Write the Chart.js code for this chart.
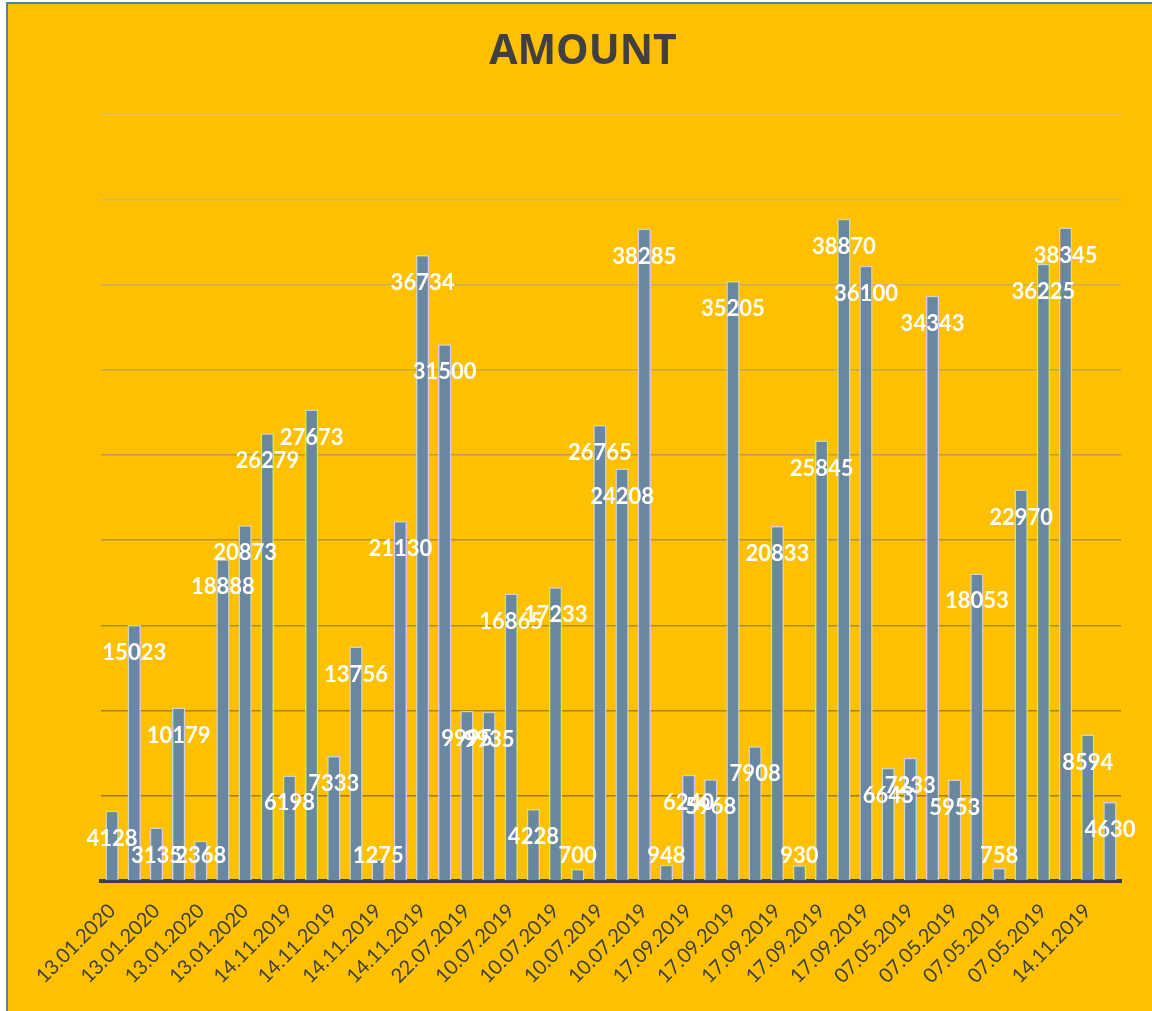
<!DOCTYPE html>
<html>
<head>
<meta charset="utf-8">
<script src="https://cdn.jsdelivr.net/npm/chart.js@4.4.1/dist/chart.umd.min.js"></script>
<style>
  html, body { margin: 0; padding: 0; background: #ffffff; width: 1152px; height: 1011px; overflow: hidden; }
  #frame { position: absolute; left: 6px; top: 2px; width: 1146px; height: 1009px; box-sizing: border-box;
           border-left: 2px solid #4F81BD; border-top: 2px solid #4F81BD; background: #FFC000; }
  #wrap { position: absolute; left: 0; top: 0; width: 1152px; height: 1011px; }
</style>
</head>
<body>
<div id="frame"></div>
<div id="wrap"><canvas id="c" width="1152" height="1011"></canvas></div>
<script>
const chartTitle = 'AMOUNT';

const categories = [
  '13.01.2020','13.01.2020','13.01.2020','13.01.2020','13.01.2020','13.01.2020','13.01.2020','13.01.2020',
  '14.11.2019','14.11.2019','14.11.2019','14.11.2019','14.11.2019','14.11.2019','14.11.2019','14.11.2019',
  '22.07.2019','22.07.2019',
  '10.07.2019','10.07.2019','10.07.2019','10.07.2019','10.07.2019','10.07.2019','10.07.2019','10.07.2019',
  '17.09.2019','17.09.2019','17.09.2019','17.09.2019','17.09.2019','17.09.2019','17.09.2019','17.09.2019','17.09.2019','17.09.2019',
  '07.05.2019','07.05.2019','07.05.2019','07.05.2019','07.05.2019','07.05.2019','07.05.2019','07.05.2019',
  '14.11.2019','14.11.2019'
];

const amounts = [
  4128, 15023, 3135, 10179, 2368, 18888, 20873, 26279,
  6198, 27673, 7333, 13756, 1275, 21130, 36734, 31500,
  9995, 9935,
  16865, 4228, 17233, 700, 26765, 24208, 38285, 948,
  6240, 5968, 35205, 7908, 20833, 930, 25845, 38870, 36100, 6643,
  7233, 34343, 5953, 18053, 758, 22970, 36225, 38345,
  8594, 4630
];

const yMin = 0;
const yMax = 45000;
const yStep = 5000;

const valueLabels = {
  id: 'valueLabels',
  afterDraw(chart) {
    const ctx = chart.ctx;
    const meta = chart.getDatasetMeta(0);
    const bottom = chart.chartArea.bottom;
    ctx.save();
    ctx.font = 'bold 22px Lato';
    ctx.fillStyle = '#ffffff';
    ctx.textAlign = 'center';
    ctx.textBaseline = 'middle';
    meta.data.forEach((bar, i) => {
      const y = Math.min(bar.y + 28, bottom - 25);
      ctx.fillText(String(chart.data.datasets[0].data[i]), bar.x, y);
    });
    ctx.restore();
  }
};

function gridColor(ctx) {
  const idx = ctx.index;
  if (idx === 0) return 'rgba(0,0,0,0)';
  const t = (idx - 1) / 8;
  const r = Math.round(95 + t * 100), g = Math.round(75 + t * 115), b = Math.round(20 + t * 170);
  return 'rgba(' + r + ',' + g + ',' + b + ',0.6)';
}

new Chart(document.getElementById('c'), {
  type: 'bar',
  data: {
    labels: categories,
    datasets: [{
      data: amounts,
      backgroundColor: '#6887A0',
      borderColor: '#C8D2DA',
      borderWidth: 1.5,
      barPercentage: 0.6,
      categoryPercentage: 1.0
    }]
  },
  options: {
    responsive: false,
    animation: false,
    devicePixelRatio: 1,
    layout: { padding: { left: 45, right: 31, top: 0, bottom: 0 } },
    plugins: {
      legend: { display: false },
      tooltip: { enabled: false },
      title: {
        display: true,
        text: chartTitle,
        color: '#404040',
        font: { family: 'Open Sans', size: 41, weight: 'bold', lineHeight: 1.2 },
        padding: { top: 28, bottom: 37 }
      }
    },
    scales: {
      x: {
        z: 1,
        grid: { display: false, drawTicks: false },
        border: { display: true, color: '#3F3F3F', width: 4 },
        ticks: {
          autoSkip: false,
          maxRotation: 45,
          minRotation: 45,
          padding: 18,
          color: '#404040',
          font: { family: 'Lato', size: 20 },
          callback: function(value, index) { return index % 2 === 0 ? this.getLabelForValue(value) : ''; }
        },
        afterFit(scale) { scale.height = 130; }
      },
      y: {
        z: 1,
        min: yMin,
        max: yMax,
        border: { display: false },
        grid: { color: gridColor, lineWidth: 1.5, drawTicks: false },
        ticks: { display: false, stepSize: yStep },
        afterFit(scale) { scale.width = 56; }
      }
    }
  },
  plugins: [valueLabels]
});
</script>
</body>
</html>
